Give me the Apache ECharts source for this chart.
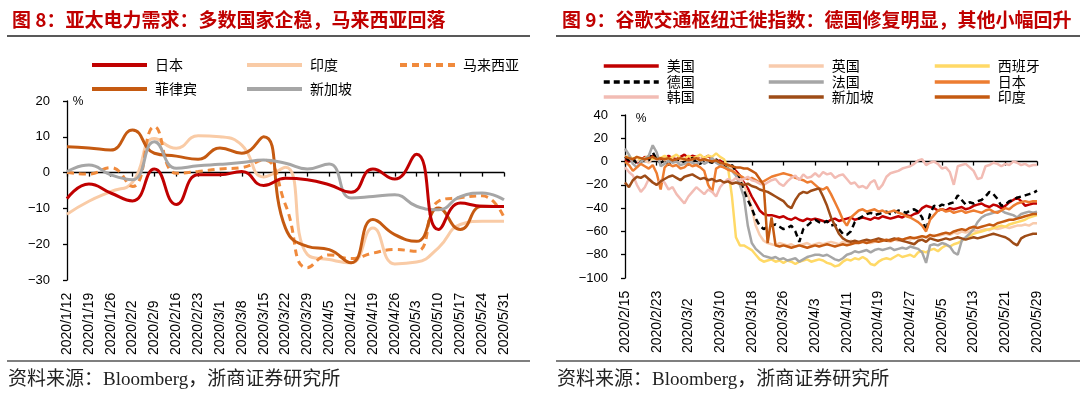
<!DOCTYPE html>
<html>
<head>
<meta charset="utf-8">
<script src="https://cdn.jsdelivr.net/npm/echarts@6/dist/echarts.min.js"></script>
<style>
html, body { margin: 0; padding: 0; background: #fff; }
#wrap { width: 1080px; height: 396px; position: relative; }
#left, #right { position: absolute; top: 0; width: 540px; height: 396px; }
#left { left: 0; }
#right { left: 540px; }
</style>
</head>
<body>
<div id="wrap"><div id="left"></div><div id="right"></div></div>
<script>
// 图8 亚太电力需求（周度，%）
var weekLabels = ['2020/1/12','2020/1/19','2020/1/26','2020/2/2','2020/2/9','2020/2/16','2020/2/23','2020/3/1','2020/3/8','2020/3/15','2020/3/22','2020/3/29','2020/4/5','2020/4/12','2020/4/19','2020/4/26','2020/5/3','2020/5/10','2020/5/17','2020/5/24','2020/5/31'];
var powJapan = [-7.3,-3.2,-5.7,-7.9,1.0,-8.9,-0.6,-0.6,0.3,-3.6,-1.6,-2.0,-3.4,-5.5,1.0,-1.8,5.1,-15.9,-8.5,-9.4,-9.5];
var powIndia = [-11.6,-8.0,-5.3,-2.7,9.5,6.8,10.3,10.0,7.7,-1.2,1.5,-22.9,-24.3,-25.2,-15.5,-25.5,-25.0,-21.0,-14.5,-13.6,-13.6];
var powMalaysia = [0,-0.4,1.4,-3.9,12.8,-0.2,0.3,1.0,1.4,3.5,-9.0,-26.6,-23.0,-24.0,-22.5,-21.5,-22.0,-8.0,-7.0,-6.5,-12.5];
var powPhilippines = [7.2,6.9,6.3,11.9,5.4,4.6,3.7,6.9,5.4,10.0,-15.5,-20.6,-21.5,-25.2,-13.1,-17.3,-19.2,-9.9,-15.9,-9.4,-9.5];
var powSingapore = [0.3,2.1,-0.6,-2.0,8.6,1.2,1.9,2.3,2.8,3.5,2.6,1.0,2.4,-7.1,-6.7,-6.2,-9.4,-10.4,-6.7,-5.7,-7.6];

// 图9 谷歌交通枢纽迁徙指数（日度，%），2020/2/15 - 2020/5/29
var migDays = [];
for (var d = new Date(2020, 1, 15); d <= new Date(2020, 4, 29); d.setDate(d.getDate() + 1)) {
    migDays.push('2020/' + (d.getMonth() + 1) + '/' + d.getDate());
}
var migUS = [2,0,3,-1,1,4,2,5,3,1,
    2,5,3,2,4,6,3,5,4,2,
    3,5,2,0,1,-2,-3,-5,-8,-12,
    -18,-23,-30,-36,-42,-45,-46,-46,-47,-48,
    -47,-49,-50,-48,-50,-51,-49,-50,-49,-50,
    -51,-52,-50,-49,-51,-50,-49,-48,-50,-49,
    -48,-49,-50,-48,-49,-47,-48,-49,-48,-47,
    -48,-46,-47,-45,-44,-40,-38,-39,-40,-42,
    -41,-42,-40,-41,-40,-39,-41,-40,-38,-37,
    -36,-38,-39,-37,-38,-40,-38,-35,-33,-31,
    -34,-38,-37,-36,-36];
var migUK = [5,2,3,0,2,1,-1,3,2,0,
    1,3,2,0,1,2,0,1,3,2,
    1,0,2,1,-1,-3,-4,-6,-10,-14,
    -20,-28,-40,-55,-63,-68,-70,-71,-72,-70,
    -71,-72,-71,-73,-72,-71,-70,-72,-71,-70,
    -71,-70,-69,-70,-71,-69,-70,-68,-69,-70,
    -69,-68,-70,-69,-68,-67,-68,-69,-67,-68,
    -67,-66,-67,-65,-66,-64,-65,-66,-63,-64,
    -63,-62,-63,-61,-62,-60,-61,-60,-59,-60,
    -59,-58,-59,-57,-58,-57,-56,-57,-56,-55,
    -55,-54,-55,-53,-53];
var migSpain = [3,5,2,4,1,3,5,2,4,3,
    5,2,4,6,3,2,5,3,4,6,
    3,5,4,7,4,2,-5,-30,-65,-72,
    -72,-74,-76,-80,-84,-86,-85,-84,-86,-85,
    -87,-85,-86,-88,-86,-85,-84,-86,-85,-84,
    -85,-87,-88,-90,-89,-86,-84,-85,-83,-84,
    -82,-84,-88,-89,-86,-84,-83,-84,-82,-80,
    -82,-81,-80,-82,-78,-77,-78,-76,-75,-77,
    -74,-72,-73,-71,-70,-68,-66,-64,-62,-61,
    -60,-59,-58,-57,-56,-55,-56,-54,-53,-52,
    -51,-50,-48,-47,-46];
var migGermany = [4,1,3,-2,0,2,1,8,2,-1,
    1,-3,0,2,1,-1,2,3,0,-2,
    1,0,-1,2,-2,-4,-6,-3,-8,-15,
    -25,-33,-40,-49,-55,-58,-56,-55,-54,-56,
    -58,-57,-55,-60,-69,-58,-55,-52,-50,-52,
    -53,-51,-55,-54,-58,-62,-63,-60,-52,-49,
    -47,-45,-44,-46,-45,-44,-43,-45,-44,-42,
    -43,-44,-42,-41,-43,-48,-60,-45,-38,-39,
    -37,-38,-36,-35,-29,-33,-37,-35,-36,-34,
    -33,-30,-26,-28,-32,-38,-37,-34,-33,-31,
    -30,-29,-28,-27,-25];
var migFrance = [11,6,-2,-5,0,2,5,14,8,-4,
    -2,1,-1,0,-3,-2,0,-1,-3,1,
    -2,0,3,-1,-3,-5,-6,-8,-12,-20,
    -30,-55,-70,-75,-78,-81,-82,-83,-82,-84,
    -83,-85,-84,-83,-86,-84,-82,-81,-80,-80,
    -81,-80,-82,-84,-85,-83,-80,-79,-77,-78,
    -77,-76,-78,-76,-75,-76,-75,-74,-76,-75,
    -74,-75,-73,-74,-75,-78,-87,-72,-71,-72,
    -70,-71,-73,-78,-80,-68,-65,-62,-58,-52,
    -48,-46,-45,-44,-43,-42,-44,-45,-46,-48,
    -45,-44,-43,-44,-43];
var migJapan = [0,-3,-8,-5,-2,-4,-6,-3,-10,-24,
    -5,-2,-4,-3,-6,-5,-2,-4,-3,-5,
    -8,-20,-26,-6,-4,-5,-7,-8,-10,-12,
    -14,-15,-14,-16,-18,-17,-15,-13,-12,-11,
    -10,-11,-12,-14,-15,-16,-18,-17,-20,-23,
    -24,-22,-28,-35,-42,-50,-55,-48,-45,-42,
    -41,-43,-42,-41,-43,-42,-44,-43,-42,-44,
    -45,-47,-48,-50,-52,-55,-60,-50,-46,-42,
    -41,-43,-42,-44,-43,-42,-44,-43,-42,-43,
    -44,-42,-41,-43,-44,-42,-40,-41,-38,-36,
    -35,-34,-35,-34,-34];
var migKorea = [-5,-9,-12,-20,-26,-22,-15,-18,-20,-16,
    -18,-24,-22,-28,-32,-36,-30,-26,-22,-25,
    -28,-24,-26,-30,-22,-18,-15,-17,-14,-16,
    -15,-13,-16,-17,-19,-20,-18,-16,-15,-19,
    -21,-17,-14,-12,-16,-11,-14,-13,-10,-13,
    -9,-11,-10,-14,-12,-11,-15,-19,-18,-22,
    -21,-23,-18,-16,-24,-20,-13,-10,-9,-8,
    -6,-5,-4,-2,1,2,-3,-1,0,-2,
    -6,-5,-9,-20,-4,-3,-2,-5,-8,-15,
    -14,-4,-3,-1,-2,-4,-2,-3,0,-1,
    -3,-2,-4,-3,-3];
var migSingapore = [-18,-22,-16,-13,-14,-12,-15,-18,-20,-17,
    -15,-13,-12,-14,-16,-13,-12,-11,-13,-15,
    -14,-16,-15,-17,-16,-18,-17,-19,-18,-19,
    -20,-19,-21,-22,-24,-25,-26,-28,-30,-32,
    -34,-38,-40,-33,-28,-26,-27,-25,-24,-23,
    -30,-38,-48,-55,-62,-66,-68,-69,-68,-69,
    -68,-67,-68,-67,-66,-67,-68,-67,-66,-67,
    -68,-69,-70,-71,-68,-67,-69,-66,-67,-68,
    -67,-66,-67,-66,-65,-66,-67,-66,-65,-66,
    -65,-64,-63,-62,-63,-64,-65,-67,-70,-72,
    -66,-64,-63,-62,-62];
var migIndia = [4,3,2,4,3,2,3,4,2,3,
    2,3,1,2,3,2,1,2,3,1,
    2,1,0,1,-1,-2,-3,-4,-5,-5,
    -6,-6,-8,-10,-15,-20,-70,-48,-72,-73,
    -72,-73,-74,-73,-72,-73,-74,-73,-72,-73,
    -72,-71,-72,-73,-72,-71,-72,-71,-70,-70,
    -69,-70,-69,-68,-69,-68,-67,-68,-67,-66,
    -67,-66,-65,-66,-65,-64,-65,-63,-64,-63,
    -62,-61,-62,-60,-59,-58,-59,-57,-56,-57,
    -56,-55,-54,-55,-53,-52,-51,-50,-50,-49,
    -48,-47,-46,-45,-45];

var AXIS_FONT = 'Liberation Sans, Arial, sans-serif';
var CJK_FONT = 'Noto Sans CJK SC, sans-serif';
var SRC_FONT = 'Liberation Serif, Noto Sans CJK SC, serif';

function minusFmt(v) { return v < 0 ? '\u2212' + Math.abs(v) : String(v); }

function line(name, data, color, width, dash, smooth) {
    return {
        name: name, type: 'line', data: data, symbol: 'none', smooth: smooth,
        xAxisIndex: 0, yAxisIndex: 0,
        lineStyle: { color: color, width: width, type: dash || 'solid' },
        itemStyle: { color: color }
    };
}

// 图例：只画线，不画圆点
function legendItem(name, left, top, lw) {
    return {
        data: [name], left: left, top: top, itemWidth: 55, itemHeight: 12,
        selectedMode: false, padding: 0,
        lineStyle: { width: lw },
        itemStyle: { color: 'transparent', borderColor: 'transparent', borderWidth: 0, opacity: 0 },
        textStyle: { fontSize: 14, color: '#000', fontFamily: CJK_FONT, padding: [0, 0, 0, 3] }
    };
}

function xAxes(cats, every) {
    return [
        {
            type: 'category', data: cats, boundaryGap: false, position: 'bottom',
            axisLine: { show: false, onZero: false }, axisTick: { show: false },
            axisLabel: { interval: every, rotate: 90, align: 'left', verticalAlign: 'middle', margin: 75,
                fontSize: 14, color: '#000', fontFamily: AXIS_FONT }
        },
        {
            type: 'category', data: cats, boundaryGap: false, position: 'bottom',
            axisLine: { show: true, onZero: true, lineStyle: { color: '#000', width: 1.3 } },
            axisTick: { show: true, interval: every, length: 4, lineStyle: { color: '#000', width: 1.3 } },
            axisLabel: { show: false }
        }
    ];
}

function yAxis(min, max, step) {
    return {
        type: 'value', min: min, max: max, interval: step,
        axisLine: { show: true, lineStyle: { color: '#000', width: 1.3 } },
        axisTick: { show: true, length: 4, lineStyle: { color: '#000', width: 1.3 } },
        splitLine: { show: false },
        axisLabel: { margin: 17, fontSize: 13, color: '#000', fontFamily: AXIS_FONT, formatter: minusFmt }
    };
}

function frame(ruleX1, ruleX2, textX, pctX, pctY) {
    return [
        { type: 'line', shape: { x1: ruleX1, y1: 36, x2: ruleX2, y2: 36 }, style: { stroke: '#222', lineWidth: 1.5 } },
        { type: 'line', shape: { x1: ruleX1, y1: 361, x2: ruleX2, y2: 361 }, style: { stroke: '#555', lineWidth: 1.5 } },
        { type: 'text', x: textX, y: 380, style: { text: '资料来源：Bloomberg，浙商证券研究所', font: '19px ' + SRC_FONT, fill: '#222', verticalAlign: 'middle' } },
        { type: 'text', x: pctX, y: pctY, style: { text: '%', font: '12px ' + AXIS_FONT, fill: '#000', align: 'center', verticalAlign: 'middle' } }
    ];
}

// 左图
var leftChart = echarts.init(document.getElementById('left'));
leftChart.setOption({
    animation: false,
    title: { text: '图 8：亚太电力需求：多数国家企稳，马来西亚回落', left: 7, top: 5,
        textStyle: { fontSize: 19, fontWeight: 'bold', color: '#c00000', fontFamily: CJK_FONT } },
    legend: [
        legendItem('日本', 90, 58, 4),
        legendItem('印度', 245, 58, 4),
        legendItem('马来西亚', 398, 58, 4),
        legendItem('菲律宾', 90, 82, 4),
        legendItem('新加坡', 245, 82, 4)
    ],
    grid: { left: 67, right: 36, top: 101, bottom: 116 },
    xAxis: xAxes(weekLabels, 0),
    yAxis: yAxis(-30, 20, 10),
    graphic: frame(7, 530, 8, 78, 102),
    series: [
        line('印度', powIndia, '#f9cba6', 3, null, true),
        line('马来西亚', powMalaysia, '#f08a3c', 3, [7, 5], true),
        line('菲律宾', powPhilippines, '#c55a11', 3, null, true),
        line('新加坡', powSingapore, '#a6a6a6', 3, null, true),
        line('日本', powJapan, '#c00000', 3, null, true)
    ]
});

// 右图
var rightChart = echarts.init(document.getElementById('right'));
rightChart.setOption({
    animation: false,
    title: { text: '图 9：谷歌交通枢纽迁徙指数：德国修复明显，其他小幅回升', left: 17, top: 5,
        textStyle: { fontSize: 19, fontWeight: 'bold', color: '#c00000', fontFamily: CJK_FONT } },
    legend: [
        legendItem('美国', 62, 59, 3.5),
        legendItem('英国', 227, 59, 3.5),
        legendItem('西班牙', 393, 59, 3.5),
        legendItem('德国', 62, 75, 3.5),
        legendItem('法国', 227, 75, 3.5),
        legendItem('日本', 393, 75, 3.5),
        legendItem('韩国', 62, 90, 3.5),
        legendItem('新加坡', 227, 90, 3.5),
        legendItem('印度', 393, 90, 3.5)
    ],
    grid: { left: 85, right: 43, top: 115, bottom: 118 },
    xAxis: xAxes(migDays, 7),
    yAxis: yAxis(-100, 40, 20),
    graphic: frame(16, 540, 17, 101, 119),
    series: [
        line('美国', migUS, '#c00000', 2.5, null, false),
        line('英国', migUK, '#f8cbad', 2.5, null, false),
        line('西班牙', migSpain, '#ffd966', 2.5, null, false),
        line('德国', migGermany, '#000000', 2.5, [6, 4], false),
        line('法国', migFrance, '#a6a6a6', 2.5, null, false),
        line('日本', migJapan, '#ed7d31', 2.5, null, false),
        line('韩国', migKorea, '#f2bcb4', 2.5, null, false),
        line('新加坡', migSingapore, '#9e4c17', 2.5, null, false),
        line('印度', migIndia, '#c55a11', 2.5, null, false)
    ]
});
</script>
</body>
</html>
